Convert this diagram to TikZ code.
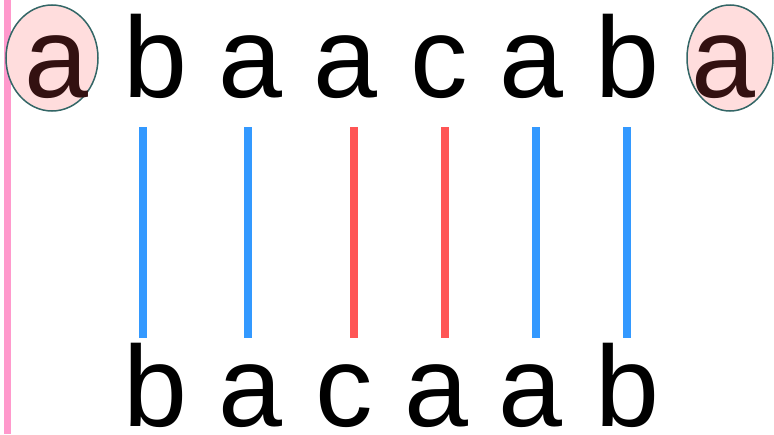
\documentclass[tikz,border=0pt]{standalone}
\usepackage{fontspec}
\setmainfont{Liberation Sans}
\usetikzlibrary{shapes.geometric}
\definecolor{linkblue}{HTML}{3399FF}
\definecolor{linkred}{HTML}{FF5555}
\definecolor{markpink}{HTML}{FFDDDD}
\definecolor{markedge}{HTML}{336666}
\definecolor{markink}{HTML}{331111}
\definecolor{barpink}{HTML}{FF99CC}

\begin{document}
\begin{tikzpicture}[x=1pt,y=-1pt,
  letter/.style={font=\fontsize{115}{115}\selectfont, anchor=base, inner sep=0pt},
  wrap/.style={ellipse, draw=markedge, fill=markpink, line width=1.5pt, inner sep=0pt},
  link/.style={line width=7.5pt}]
\useasboundingbox (0,0) rectangle (774,434);

% bar on the left edge
\coordinate (bartop) at (7,0);
\coordinate (barbot) at (7,434);
\draw[barpink, line width=7pt] (bartop) -- (barbot);

% marked letters at both ends of the upper string
\node[wrap, minimum width=92pt, minimum height=106pt] (lwrap) at (52,58) {};
\node[wrap, minimum width=86pt, minimum height=106pt] (rwrap) at (730,58) {};
\node[letter, text=markink] (tl) at (56,97) {a};
\node[letter, text=markink] (tr) at (723,97) {a};

% upper string
\foreach \ch/\x [count=\i] in {b/155, a/250, a/345, c/439, a/531, b/627} {
    \node[letter] (t\i) at (\x,97) {\ch};
}

% lower string
\foreach \ch/\x [count=\i] in {b/155, a/250, c/344, a/436, a/530, b/627} {
    \node[letter] (b\i) at (\x,426) {\ch};
}

% links between the two strings
\foreach \x/\c [count=\i] in {143/linkblue, 248/linkblue, 354/linkred, 445/linkred, 536/linkblue, 627/linkblue} {
    \coordinate (u\i) at (\x,127);
    \coordinate (d\i) at (\x,338);
    \draw[link, \c] (u\i) -- (d\i);
}

\end{tikzpicture}
\end{document}
